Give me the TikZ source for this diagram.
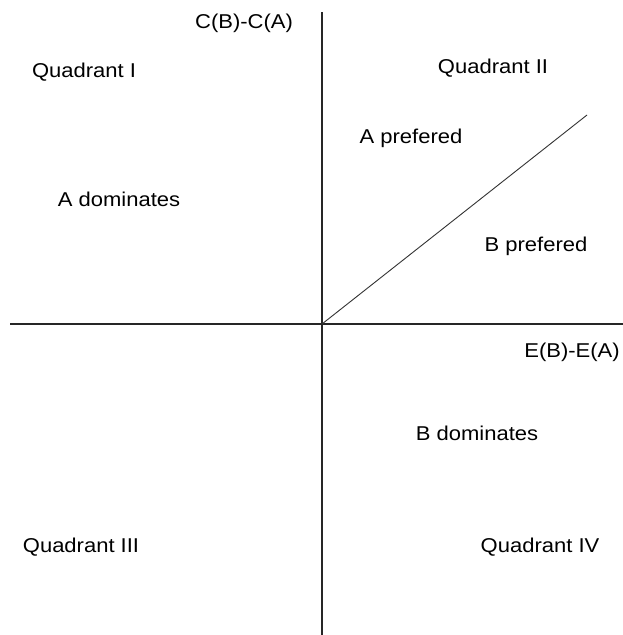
\documentclass[tikz,border=0pt]{standalone}
\usepackage{fontspec}
\setmainfont[FakeStretch=1.1]{Liberation Sans}
\begin{document}
\begin{tikzpicture}[x=1pt,y=-1pt,
  lbl/.style={inner sep=0pt,font=\fontsize{20}{24}\selectfont},
  axis/.style={line width=1.3pt,black!85},
  diag/.style={line width=0.9pt,black!80}]
\useasboundingbox[fill=white] (0,0) rectangle (623,635);
\coordinate (O) at (322,324);
\coordinate (top) at (322,12);
\coordinate (bot) at (322,635);
\coordinate (left) at (10,324);
\coordinate (right) at (623,324);
\coordinate (dend) at (587,115);
\draw[axis] (top) -- (bot);
\draw[axis] (left) -- (right);
\draw[diag] (O) -- (dend);
\node[lbl] (cy) at (244,23) {C(B)-C(A)};
\node[lbl] (ex) at (572,352) {E(B)-E(A)};
\node[lbl] (q1) at (84,72) {Quadrant I};
\node[lbl] (q2) at (493,68) {Quadrant II};
\node[lbl] (q3) at (81,547) {Quadrant III};
\node[lbl] (q4) at (540,547) {Quadrant IV};
\node[lbl] (ap) at (411,138) {A prefered};
\node[lbl] (bp) at (536,246) {B prefered};
\node[lbl] (ad) at (119,199) {A dominates};
\node[lbl] (bd) at (477,433) {B dominates};
\end{tikzpicture}
\end{document}
